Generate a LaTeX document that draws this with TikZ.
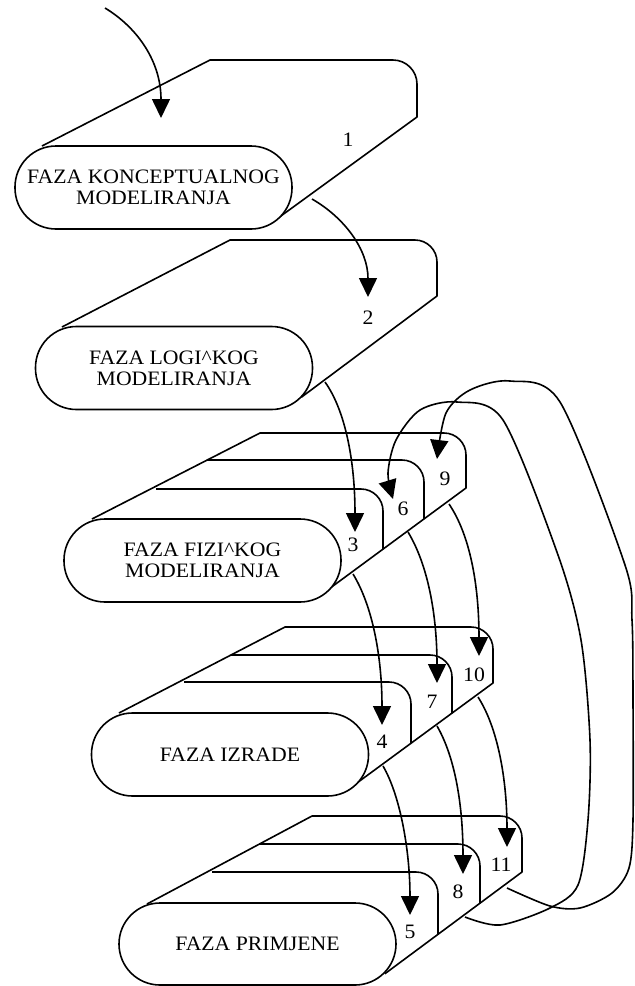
\documentclass[tikz,border=0pt]{standalone}
\usepackage{fontspec}
\setmainfont{Liberation Serif}[FakeStretch=1.06]
\usetikzlibrary{arrows.meta}
\newcommand\phasefont{\fontsize{20.5}{21}\selectfont}
\begin{document}
\begin{tikzpicture}[x=1pt,y=-1pt,line width=1.6pt,line join=round,
  phase/.style={draw,fill=white,rounded corners=41pt,minimum width=277pt,
    minimum height=83pt,inner sep=0pt,align=center,font=\phasefont},
  num/.style={inner sep=0pt,font=\phasefont},
  flow/.style={-{Triangle[length=19pt,width=18pt]}}]
\useasboundingbox (0,0) rectangle (635,986);

% ---------- key points of the back shapes ----------
\coordinate (R1) at (417,117);   \coordinate (D1) at (279.8,216.8);
\coordinate (R2) at (437,296);   \coordinate (D2) at (301.3,397.3);
\coordinate (R3) at (466,488);   \coordinate (D3) at (327.8,589.8);
\coordinate (R4) at (493,683);   \coordinate (D4) at (355.8,783.8);
\coordinate (R5) at (522,872);   \coordinate (D5) at (384.8,973.8);

% ---------- block 1 ----------
\draw (42,146) -- (210,60) -- (393,60) .. controls (406.2,60) and (417,70.8) .. (417,84) -- (R1) -- (D1);
% ---------- block 2 ----------
\draw (62,327) -- (230,240) -- (415,240) .. controls (427.1,240) and (437,249.9) .. (437,262) -- (R2) -- (D2);
% ---------- block 3 ----------
\draw (92,519) -- (260,433) -- (444,433) .. controls (456.1,433) and (466,442.9) .. (466,455) -- (R3) -- (D3);
\draw (207,460) -- (402,460) .. controls (414.1,460) and (424,469.9) .. (424,482) -- (intersection of 424,460--424,900 and R3--D3);
\draw (156,489) -- (361,489) .. controls (373.1,489) and (383,498.9) .. (383,511) -- (intersection of 383,489--383,900 and R3--D3);
% ---------- block 4 ----------
\draw (119,713) -- (285,627) -- (471,627) .. controls (483.1,627) and (493,636.9) .. (493,649) -- (R4) -- (D4);
\draw (231,655) -- (430,655) .. controls (442.1,655) and (452,664.9) .. (452,677) -- (intersection of 452,655--452,980 and R4--D4);
\draw (184,682) -- (389,682) .. controls (401.1,682) and (411,691.9) .. (411,704) -- (intersection of 411,682--411,980 and R4--D4);
% ---------- block 5 ----------
\draw (147,904) -- (312,816) -- (500,816) .. controls (512.1,816) and (522,825.9) .. (522,838) -- (R5) -- (D5);
\draw (259,844) -- (458,844) .. controls (470.1,844) and (480,853.9) .. (480,866) -- (intersection of 480,844--480,1000 and R5--D5);
\draw (212,872) -- (416,872) .. controls (428.1,872) and (438,881.9) .. (438,894) -- (intersection of 438,872--438,1000 and R5--D5);

% ---------- phase nodes ----------
\node[phase] (p1) at (153.5,187.5) {FAZA KONCEPTUALNOG\\MODELIRANJA};
\node[phase] (p2) at (174,368) {FAZA LOGI\^{}KOG\\MODELIRANJA};
\node[phase] (p3) at (202.5,560.5) {FAZA FIZI\^{}KOG\\MODELIRANJA};
\node[phase] (p4) at (230,754.5) {FAZA IZRADE};
\node[phase,minimum height=82pt] (p5) at (257.5,944) {FAZA PRIMJENE};

% ---------- numbers ----------
\node[num] (n1) at (348,140) {1};
\node[num] (n2) at (368,318) {2};
\node[num] (n3) at (353,545) {3};
\node[num] (n6) at (403,509) {6};
\node[num] (n9) at (445,479) {9};
\node[num] (n4) at (382,742) {4};
\node[num] (n7) at (432,702) {7};
\node[num] (n10) at (474,675) {10};
\node[num] (n5) at (410,932) {5};
\node[num] (n8) at (458,892) {8};
\node[num] (n11) at (501,865) {11};

% ---------- connector ends ----------
\coordinate (a0s) at (105,8);    \coordinate (a0e) at (161,118);
\coordinate (a1s) at (312,199);  \coordinate (a1e) at (368,297);
\coordinate (a2s) at (325,382);  \coordinate (a2e) at (355,532);
\coordinate (a3s) at (353,574);  \coordinate (a3e) at (382,725);
\coordinate (a4s) at (383,766);  \coordinate (a4e) at (410,915);
\coordinate (a6s) at (408,532);  \coordinate (a6e) at (437,683);
\coordinate (a7s) at (437,726);  \coordinate (a7e) at (463,874);
\coordinate (a9s) at (449,504);  \coordinate (a9e) at (479,656);
\coordinate (a10s) at (478,697); \coordinate (a10e) at (507,847);
\coordinate (l8s) at (465,917);  \coordinate (l6e) at (393,499);
\coordinate (l11s) at (507,888); \coordinate (l9e) at (437,459);

% ---------- connectors ----------
\draw[flow] (a0s) .. controls (138,28) and (161,62) .. (a0e);
\draw[flow] (a1s) .. controls (345,218) and (368,250) .. (a1e);
\draw[flow] (a2s) .. controls (345,410) and (355,460) .. (a2e);
\draw[flow] (a3s) .. controls (372,605) and (382,655) .. (a3e);
\draw[flow] (a4s) .. controls (400,795) and (410,850) .. (a4e);
\draw[flow] (a6s) .. controls (428,565) and (437,615) .. (a6e);
\draw[flow] (a7s) .. controls (455,757) and (463,805) .. (a7e);
\draw[flow] (a9s) .. controls (470,535) and (479,585) .. (a9e);
\draw[flow] (a10s) .. controls (498,728) and (507,780) .. (a10e);

\draw[flow] plot[smooth,tension=0.5] coordinates {(l8s) (500,925) (550,908) (578,885) (588,820) (590,740) (581,640) (558,555) (503,420) (457,402) (420,410) (396,440) (388,473) (l6e)};
\draw[flow] plot[smooth,tension=0.5] coordinates {(l11s) (550,906) (580,908) (612,893) (629,868) (633,820) (633,700) (632,620) (625,565) (560,402) (510,381) (470,390) (446,413) (l9e)};
\end{tikzpicture}
\end{document}
